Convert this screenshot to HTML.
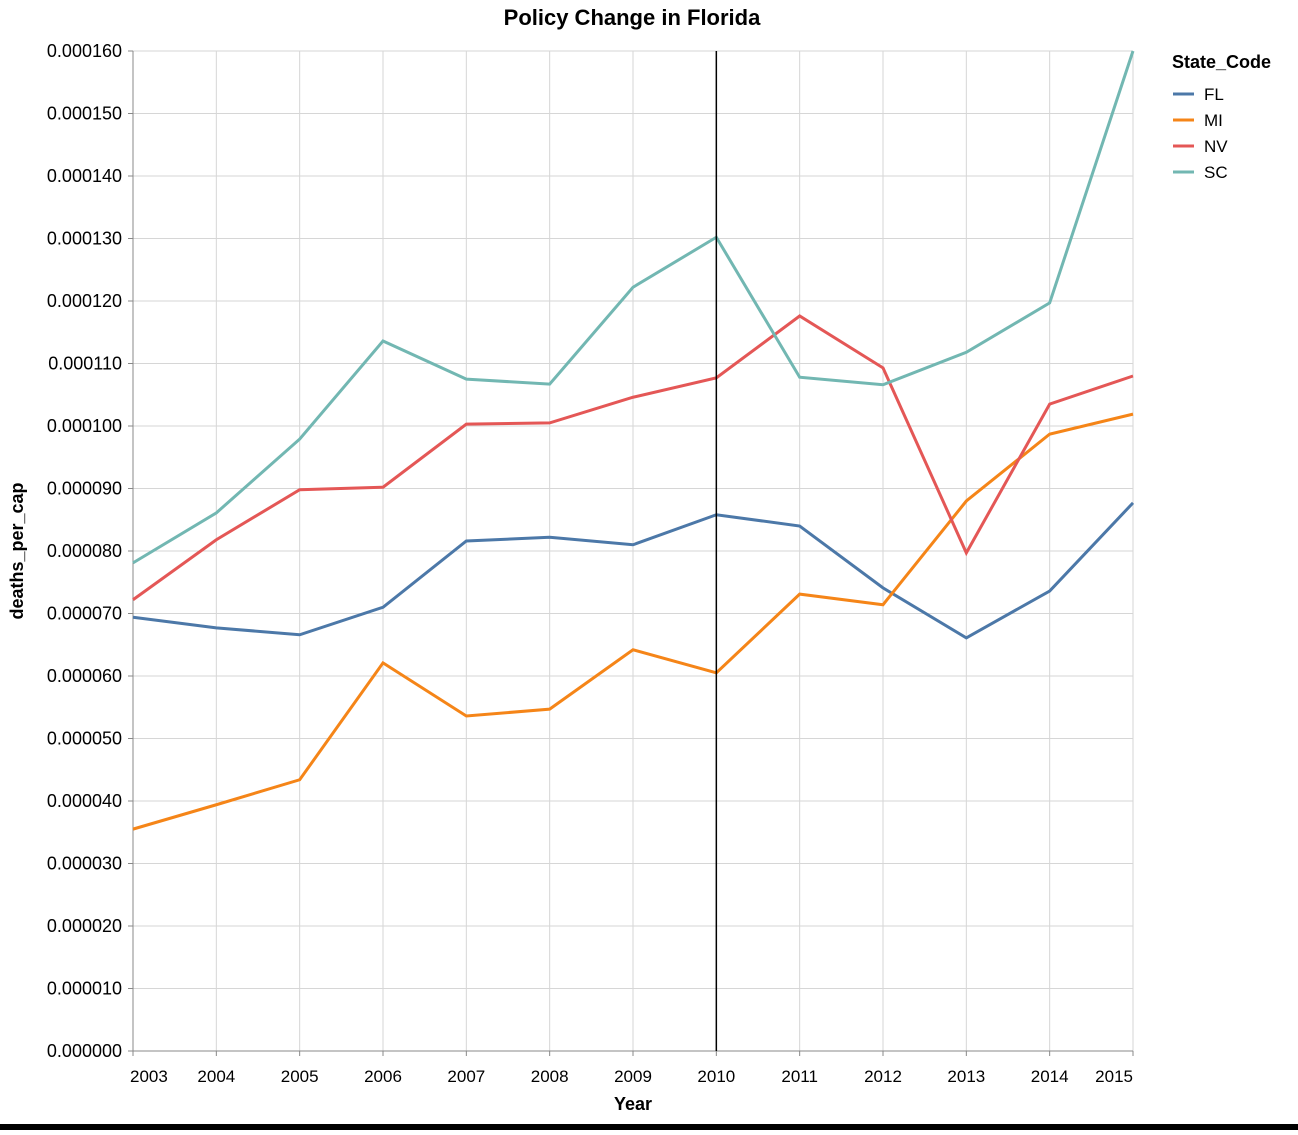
<!DOCTYPE html>
<html><head><meta charset="utf-8"><style>
html,body{margin:0;padding:0;background:#fff;}
svg text{font-family:"Liberation Sans",Arial,sans-serif;}
</style></head><body>
<svg id="chart" width="1298" height="1130" xmlns="http://www.w3.org/2000/svg"></svg>
<script>
const years = [2003,2004,2005,2006,2007,2008,2009,2010,2011,2012,2013,2014,2015];
const states = ["FL","MI","NV","SC"];
const colors = ["#4c78a8","#f58518","#e45756","#72b7b2"];
const flValues = [6.94,6.77,6.66,7.10,8.16,8.22,8.10,8.58,8.40,7.41,6.61,7.36,8.77];
const miValues = [3.55,3.94,4.34,6.21,5.36,5.47,6.42,6.05,7.31,7.14,8.80,9.87,10.19];
const nvValues = [7.22,8.18,8.98,9.02,10.03,10.05,10.46,10.77,11.76,10.93,7.97,10.35,10.80];
const scValues = [7.81,8.61,9.79,11.36,10.75,10.67,12.22,13.02,10.78,10.66,11.18,11.97,16.0];
const yTicks = [0,1,2,3,4,5,6,7,8,9,10,11,12,13,14,15,16];
const policyYear = 2010;
const series = [flValues,miValues,nvValues,scValues];

const NS="http://www.w3.org/2000/svg";
const svg=document.getElementById('chart');
const L=133,R=1133,T=51,B=1051;
const x=y=>L+(y-years[0])/(years[years.length-1]-years[0])*(R-L);
const yS=v=>B-v/16*(B-T);
function mk(tag,attrs,parent){const e=document.createElementNS(NS,tag);for(const k in attrs)e.setAttribute(k,attrs[k]);(parent||svg).appendChild(e);return e;}

const grid=mk('g',{});


years.forEach(yr=>{mk('line',{x1:x(yr),x2:x(yr),y1:T,y2:B,stroke:'#d6d6d6','stroke-width':1},grid);});
yTicks.forEach(t=>{mk('line',{x1:L,x2:R,y1:yS(t),y2:yS(t),stroke:'#d6d6d6','stroke-width':1},grid);});
const yax=mk('g',{});


mk('line',{x1:L,x2:L,y1:T,y2:B,stroke:'#888'},yax);
yTicks.forEach(t=>{
  mk('line',{x1:L-5,x2:L,y1:yS(t),y2:yS(t),stroke:'#888'},yax);
  const tx=mk('text',{x:L-11,y:yS(t)+6,'text-anchor':'end','font-size':18,fill:'#000'},yax);
  tx.textContent=(t*1e-5).toFixed(6);
});
const xax=mk('g',{});


mk('line',{x1:L,x2:R,y1:B,y2:B,stroke:'#888'},xax);
years.forEach((yr,i)=>{
  mk('line',{x1:x(yr),x2:x(yr),y1:B,y2:B+5,stroke:'#888'},xax);
  const anchor=i===0?'start':(i===years.length-1?'end':'middle');
  const tx=mk('text',{x:x(yr)+(i===0?-3:0),y:B+31,'text-anchor':anchor,'font-size':17,fill:'#000'},xax);
  tx.textContent=yr;
});
const xt=mk('text',{x:(L+R)/2,y:1110,'text-anchor':'middle','font-size':18,'font-weight':'bold'});
xt.textContent='Year';


const yt=mk('text',{x:0,y:0,'text-anchor':'middle','font-size':18,'font-weight':'bold',transform:`translate(23,${(T+B)/2}) rotate(-90)`});
yt.textContent='deaths_per_cap';


const title=mk('text',{x:632,y:25,'text-anchor':'middle','font-size':22,'font-weight':'bold'});
title.textContent='Policy Change in Florida';



series.forEach((vals,si)=>{
  const p=mk('path',{d:vals.map((v,i)=>(i?'L':'M')+x(years[i])+','+yS(v)).join(' '),fill:'none',stroke:colors[si],'stroke-width':3});
  
  
});
const pl=mk('line',{x1:x(policyYear),x2:x(policyYear),y1:T,y2:B,stroke:'#000','stroke-width':1.5});



const lg=mk('g',{});


const lt=mk('text',{x:1172,y:68,'font-size':18,'font-weight':'bold'},lg);
lt.textContent='State_Code';
states.forEach((s,i)=>{
  const g=mk('g',{},lg);
  
  
  const yy=94+i*26;
  mk('line',{x1:1173,x2:1194,y1:yy,y2:yy,stroke:colors[i],'stroke-width':3},g);
  const t=mk('text',{x:1204,y:yy+6,'font-size':17},g);
  t.textContent=s;
});
const bb=mk('rect',{x:0,y:1124,width:1298,height:6,fill:'#000'});


</script>
</body></html>
